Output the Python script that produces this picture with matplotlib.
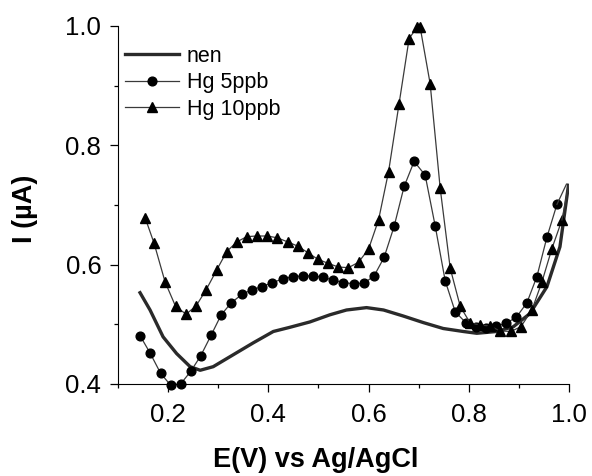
import matplotlib
matplotlib.use('Agg')
import matplotlib.pyplot as plt
from matplotlib.ticker import MultipleLocator

plt.rcParams['font.family'] = ['Liberation Sans', 'DejaVu Sans']

# blank electrode ("nen")
x_nen = [0.144, 0.164, 0.190, 0.217, 0.244, 0.264, 0.290, 0.324, 0.370, 0.410,
         0.443, 0.483, 0.523, 0.556, 0.596, 0.630, 0.669, 0.709, 0.749, 0.789,
         0.816, 0.856, 0.889, 0.922, 0.956, 0.982, 0.999]
y_nen = [0.553, 0.524, 0.479, 0.451, 0.429, 0.423, 0.429, 0.446, 0.469, 0.488,
         0.495, 0.504, 0.516, 0.524, 0.528, 0.524, 0.514, 0.503, 0.493, 0.488,
         0.485, 0.488, 0.496, 0.518, 0.563, 0.630, 0.733]

# Hg 5 ppb
x_hg5 = [0.144, 0.164, 0.185, 0.205, 0.225, 0.245, 0.265, 0.286, 0.306, 0.326,
         0.347, 0.367, 0.387, 0.408, 0.429, 0.449, 0.469, 0.489, 0.509, 0.530,
         0.550, 0.570, 0.591, 0.611, 0.631, 0.651, 0.671, 0.691, 0.713, 0.733,
         0.753, 0.773, 0.795, 0.815, 0.835, 0.855, 0.875, 0.895, 0.916, 0.936,
         0.956, 0.976]
y_hg5 = [0.481, 0.452, 0.418, 0.398, 0.400, 0.421, 0.447, 0.482, 0.516, 0.536,
         0.550, 0.558, 0.563, 0.570, 0.576, 0.580, 0.581, 0.581, 0.579, 0.574,
         0.570, 0.568, 0.569, 0.581, 0.612, 0.664, 0.731, 0.773, 0.750, 0.665,
         0.573, 0.521, 0.502, 0.496, 0.493, 0.497, 0.502, 0.512, 0.536, 0.580,
         0.646, 0.701]
x_hg5_end = [0.976, 0.995]
y_hg5_end = [0.701, 0.735]

# Hg 10 ppb
x_hg10 = [0.154, 0.172, 0.194, 0.215, 0.236, 0.256, 0.276, 0.297, 0.317, 0.337,
          0.357, 0.377, 0.398, 0.418, 0.439, 0.459, 0.479, 0.499, 0.520, 0.540,
          0.560, 0.580, 0.600, 0.620, 0.640, 0.661, 0.681, 0.697, 0.703, 0.723,
          0.743, 0.763, 0.783, 0.803, 0.823, 0.843, 0.862, 0.884, 0.904, 0.926,
          0.946, 0.966, 0.986]
y_hg10 = [0.679, 0.636, 0.571, 0.530, 0.517, 0.531, 0.558, 0.591, 0.622, 0.638,
          0.647, 0.648, 0.648, 0.645, 0.638, 0.631, 0.620, 0.609, 0.602, 0.596,
          0.595, 0.604, 0.626, 0.675, 0.756, 0.870, 0.979, 0.998, 0.998, 0.903,
          0.728, 0.594, 0.530, 0.502, 0.499, 0.497, 0.489, 0.488, 0.496, 0.524,
          0.571, 0.627, 0.675]
x_hg10_end = [0.986, 0.999]
y_hg10_end = [0.675, 0.733]

x_ticks = [0.2, 0.4, 0.6, 0.8, 1.0]
y_ticks = [0.4, 0.6, 0.8, 1.0]

fig = plt.figure(figsize=(5.92, 4.76), dpi=100)
ax = fig.add_axes([0.1993, 0.1933, 0.7618, 0.7521])

ax.plot(x_nen, y_nen, '-', color='#2a2a2a', lw=2.4, label='nen')
ax.plot(x_hg5, y_hg5, '-o', color='#3a3a3a', lw=0.9, ms=6.3,
        mfc='k', mec='k', label='Hg 5ppb', clip_on=False)
ax.plot(x_hg5_end, y_hg5_end, '-', color='#3a3a3a', lw=0.9)
ax.plot(x_hg10, y_hg10, '-^', color='#3a3a3a', lw=0.9, ms=7,
        mfc='k', mec='k', label='Hg 10ppb', clip_on=False)
ax.plot(x_hg10_end, y_hg10_end, '-', color='#3a3a3a', lw=0.9)

ax.set_xlim(0.1, 1.0)
ax.set_ylim(0.4, 1.0)
ax.set_xticks(x_ticks)
ax.set_yticks(y_ticks)
ax.set_xticklabels(['%.1f' % v for v in x_ticks])
ax.set_yticklabels(['%.1f' % v for v in y_ticks])
ax.xaxis.set_minor_locator(MultipleLocator(0.1))
ax.yaxis.set_minor_locator(MultipleLocator(0.1))

ax.spines['right'].set_color('none')
ax.spines['top'].set_color('none')
ax.tick_params(which='major', direction='out', length=6, width=0.9, labelsize=18.5)
ax.tick_params(axis='x', which='major', pad=8)
ax.tick_params(axis='y', which='major', pad=6)
ax.tick_params(which='minor', direction='out', length=3, width=0.9)

ax.set_xlabel('E(V) vs Ag/AgCl', fontsize=19.5, fontweight='bold')
ax.set_ylabel('I (\u00b5A)', fontsize=19.5, fontweight='bold')
ax.xaxis.set_label_coords(0.438, -0.176)
ax.yaxis.set_label_coords(-0.177, 0.490)

ax.legend(loc='upper left', bbox_to_anchor=(0.0155, 0.945), frameon=False,
          fontsize=15.5, handlelength=2.5, handletextpad=0.37,
          labelspacing=0.26, borderpad=0.0, borderaxespad=0.0)

fig.savefig('out.png', dpi=100)
